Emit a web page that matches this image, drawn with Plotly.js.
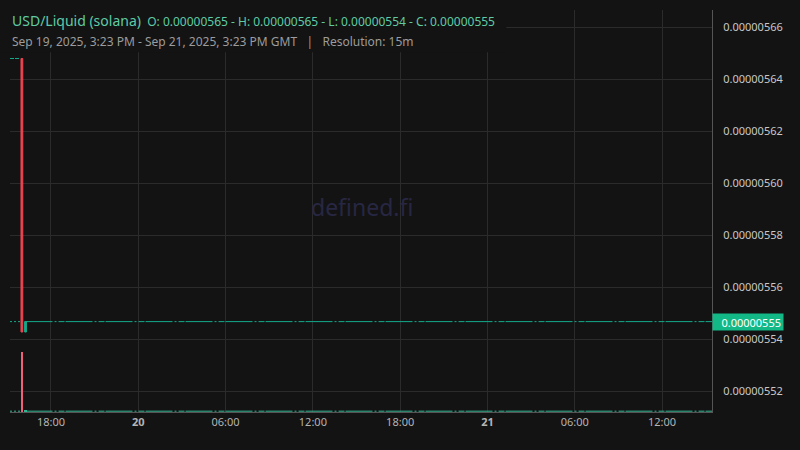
<!DOCTYPE html>
<html>
<head>
<meta charset="utf-8">
<script src="https://cdn.plot.ly/plotly-3.0.1.min.js"></script>
<style>
  html, body { margin: 0; padding: 0; background: #131313; }
  #chart { width: 800px; height: 450px; }
</style>
</head>
<body>
<div id="chart"></div>
<script>
// Candles (15m)
const candleTimes = ['2025-09-19 16:00', '2025-09-19 16:15'];
const opens  = [0.000005648, 0.0000055428];
const highs  = [0.000005648, 0.0000055468];
const lows   = [0.0000055428, 0.0000055428];
const closes = [0.0000055428, 0.0000055468];
const volumes = [820, 25];

const priceTicks = [0.00000552, 0.00000554, 0.00000556, 0.00000558,
                    0.00000560, 0.00000562, 0.00000564, 0.00000566];
const timeTicks = ['2025-09-19 18:00', '2025-09-20 00:00', '2025-09-20 06:00', '2025-09-20 12:00',
                   '2025-09-20 18:00', '2025-09-21 00:00', '2025-09-21 06:00', '2025-09-21 12:00'];
const timeTickText = ['18:00', '<b>20</b>', '06:00', '12:00', '18:00', '<b>21</b>', '06:00', '12:00'];

const xStart = '2025-09-19 15:11';
const xEnd = '2025-09-21 15:26';

const upColor = '#14aa8c';
const downColor = '#ef4351';
const lastPrice = closes[closes.length - 1];
const fmt = v => v.toFixed(8);

const candles = {
  type: 'candlestick',
  x: candleTimes,
  open: opens, high: highs, low: lows, close: closes,
  increasing: { line: { color: upColor, width: 1 }, fillcolor: upColor },
  decreasing: { line: { color: downColor, width: 1 }, fillcolor: downColor },
  whiskerwidth: 0,
  hoverinfo: 'skip',
  showlegend: false,
  yaxis: 'y'
};

const vol = {
  type: 'bar',
  x: candleTimes,
  y: volumes,
  width: 11 * 60 * 1000,
  marker: { color: closes.map((c, i) => c >= opens[i] ? '#26b894' : '#f0607a') },
  hoverinfo: 'skip',
  showlegend: false,
  yaxis: 'y2'
};

const dashPattern = '27px,2px,2px,2px,6px,1px';
const volLine = volumes[1] * 0.45;
const shapes = [
  // header backdrop
  { type: 'rect', xref: 'paper', yref: 'paper', x0: -0.02, x1: 0.707, y0: 0.895, y1: 1.0,
    fillcolor: '#131313', line: { width: 0 }, layer: 'above' },
  // last price line
  { type: 'line', xref: 'x', yref: 'y', x0: xStart, x1: candleTimes[0], y0: lastPrice, y1: lastPrice,
    line: { color: upColor, width: 1, dash: '2px,2px' } },
  { type: 'line', xref: 'x', yref: 'y', x0: candleTimes[1], x1: xEnd, y0: lastPrice, y1: lastPrice,
    line: { color: upColor, width: 1, dash: dashPattern } },
  // open marker at top-left
  { type: 'line', xref: 'x', yref: 'y', x0: xStart, x1: '2025-09-19 15:52', y0: opens[0], y1: opens[0],
    line: { color: upColor, width: 1, dash: '4px,1px' } },
  // volume last value line
  { type: 'line', xref: 'x', yref: 'y2', x0: xStart, x1: candleTimes[0], y0: volLine, y1: volLine,
    line: { color: '#36b896', width: 1, dash: '2px,2px' } },
  { type: 'line', xref: 'x', yref: 'y2', x0: candleTimes[1], x1: xEnd, y0: volLine, y1: volLine,
    line: { color: '#36b896', width: 1, dash: dashPattern } }
];

const ohlcText = 'O: ' + fmt(opens[0]) + ' - H: ' + fmt(Math.max(...highs)) +
  ' - L: ' + fmt(Math.min(...lows)) + ' - C: ' + fmt(lastPrice);

const annotations = [
  { xref: 'paper', yref: 'paper', x: 0, y: 0.975, xanchor: 'left', yanchor: 'middle', showarrow: false,
    text: '<span style="font-size:14px">USD/Liquid (solana)</span>\u00a0 ' + ohlcText,
    font: { family: 'Noto Sans', size: 12, color: '#5fcba5' } },
  { xref: 'paper', yref: 'paper', x: 0, y: 0.922, xanchor: 'left', yanchor: 'middle', showarrow: false,
    text: 'Sep 19, 2025, 3:23 PM - Sep 21, 2025, 3:23 PM GMT\u00a0\u00a0 |\u00a0\u00a0 Resolution: 15m',
    font: { family: 'Noto Sans', size: 12, color: '#9c9c9c' } },
  { xref: 'paper', yref: 'paper', x: 0.501, y: 0.51, xanchor: 'center', yanchor: 'middle', showarrow: false,
    text: 'defined.fi', font: { family: 'Noto Sans', size: 23, color: '#272743' } },
  { xref: 'paper', yref: 'y', x: 1, y: lastPrice, xanchor: 'left', yanchor: 'middle', showarrow: false,
    text: fmt(lastPrice), bgcolor: '#12b886', borderpad: 2, width: 66, height: 12, align: 'right',
    font: { family: 'Noto Sans', size: 11, color: '#ffffff' } }
];

const layout = {
  width: 800, height: 450,
  margin: { l: 10, r: 88, t: 10, b: 38 },
  paper_bgcolor: '#131313',
  plot_bgcolor: '#131313',
  showlegend: false,
  bargap: 0,
  xaxis: {
    type: 'date',
    range: [xStart, xEnd],
    tickvals: timeTicks,
    ticktext: timeTickText,
    tickfont: { family: 'Noto Sans', size: 11, color: '#b4b4b4' },
    showgrid: true, gridcolor: '#2b2b2b', gridwidth: 1,
    showline: true, linecolor: '#555555', linewidth: 1,
    zeroline: false,
    ticks: '',
    rangeslider: { visible: false },
    fixedrange: true
  },
  yaxis: {
    side: 'right',
    range: [0.00000551204, 0.00000566665],
    tickvals: priceTicks,
    ticktext: priceTicks.map(fmt),
    tickfont: { family: 'Noto Sans', size: 11, color: '#c8c8c8' },
    ticklabelstandoff: 8,
    showgrid: true, gridcolor: '#2b2b2b', gridwidth: 1,
    showline: true, linecolor: '#555555', linewidth: 1,
    zeroline: false,
    ticks: '',
    fixedrange: true
  },
  yaxis2: {
    overlaying: 'y',
    range: [0, Math.max(...volumes) * 402 / 60],
    visible: false,
    showgrid: false,
    fixedrange: true
  },
  shapes: shapes,
  annotations: annotations
};

Plotly.newPlot('chart', [vol, candles], layout, { displayModeBar: false, staticPlot: true });
</script>
</body>
</html>
